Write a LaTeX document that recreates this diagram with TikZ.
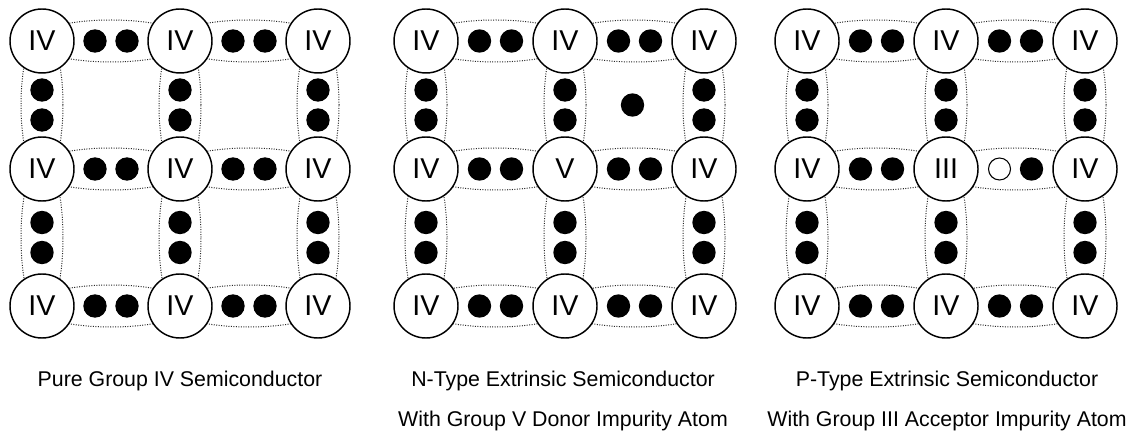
\documentclass[tikz,border=0pt]{standalone}
\usepackage{fontspec}
\setmainfont{Liberation Sans}
\usetikzlibrary{calc,backgrounds}
\tikzset{
  atom/.style={circle,draw,line width=1.1pt,fill=white,minimum size=48pt,inner sep=0pt,
    font=\fontsize{21.5}{24}\selectfont},
  elec/.style={circle,fill=black,minimum size=17.5pt,inner sep=0pt},
  hole/.style={circle,draw,line width=0.8pt,fill=white,minimum size=16.5pt,inner sep=0pt},
  bondline/.style={draw=black!85,line width=0.75pt,dash pattern=on 0.75pt off 1.1pt},
  caption/.style={anchor=base,inner sep=0pt,font=\fontsize{16}{19}\selectfont},
}
% #1 panel id, #2 #3 #4 column x, #5 centre label
\newcommand\latticepanel[5]{%
  \foreach \r/\yy in {1/41,2/169,3/306}{%
    \node[atom] (a#1\r1) at (#2,\yy) {IV};
    \node[atom] (a#1\r3) at (#4,\yy) {IV};
  }
  \node[atom] (a#112) at (#3,41) {IV};
  \node[atom] (a#122) at (#3,169) {#5};
  \node[atom] (a#132) at (#3,306) {IV};
}
% horizontal bond between atoms #1 and #2
\newcommand\hbond[2]{%
  \begin{pgfonlayer}{background}
    \draw[bondline] ($(#1)!0.5!(#2)$) ellipse [x radius=59pt,y radius=15.75pt];
  \end{pgfonlayer}
}
\newcommand\hpair[2]{%
  \hbond{#1}{#2}
  \node[elec] at ($(#1)!0.5!(#2)+(-16,0)$) {};
  \node[elec] at ($(#1)!0.5!(#2)+(16,0)$) {};
}
% vertical bond between atoms #1 and #2, #3 half length
\newcommand\vpair[3]{%
  \begin{pgfonlayer}{background}
    \draw[bondline] ($(#1)!0.5!(#2)$) ellipse [x radius=15.75pt,y radius=#3];
  \end{pgfonlayer}
  \node[elec] at ($(#1)!0.5!(#2)+(0,-15)$) {};
  \node[elec] at ($(#1)!0.5!(#2)+(0,15)$) {};
}
\begin{document}
\begin{tikzpicture}[x=0.75pt,y=-0.75pt]
  \useasboundingbox (0,0) rectangle (1130,434);
  \latticepanel{1}{42}{180}{318}{IV}
  \latticepanel{2}{426}{565}{704}{V}
  \latticepanel{3}{807}{946}{1085}{III}
  \foreach \p in {1,2,3}{
    \foreach \r in {1,3}{
      \hpair{a\p\r1}{a\p\r2}
      \hpair{a\p\r2}{a\p\r3}
    }
    \hpair{a\p21}{a\p22}
    \foreach \c in {1,2,3}{
      \vpair{a\p1\c}{a\p2\c}{56pt}
      \vpair{a\p2\c}{a\p3\c}{59pt}
    }
  }
  \hpair{a122}{a123}
  \hpair{a222}{a223}
  % extra donor electron
  \node[elec] (free) at ($(a212)!0.5!(a223)+(-2,0)$) {};
  % acceptor bond with hole
  \hbond{a322}{a323}
  \node[hole] (h) at ($(a322)!0.5!(a323)+(-16,0)$) {};
  \node[elec] (he) at ($(a322)!0.5!(a323)+(16,0)$) {};
  % captions
  \node[caption] (c1) at (180,386.5) {Pure Group IV Semiconductor};
  \node[caption] (c2a) at (563,386.5) {N-Type Extrinsic Semiconductor};
  \node[caption] (c2b) at (563,426.5) {With Group V Donor Impurity Atom};
  \node[caption] (c3a) at (947,386.5) {P-Type Extrinsic Semiconductor};
  \node[caption] (c3b) at (947,426.5) {With Group III Acceptor Impurity Atom};
\end{tikzpicture}
\end{document}
